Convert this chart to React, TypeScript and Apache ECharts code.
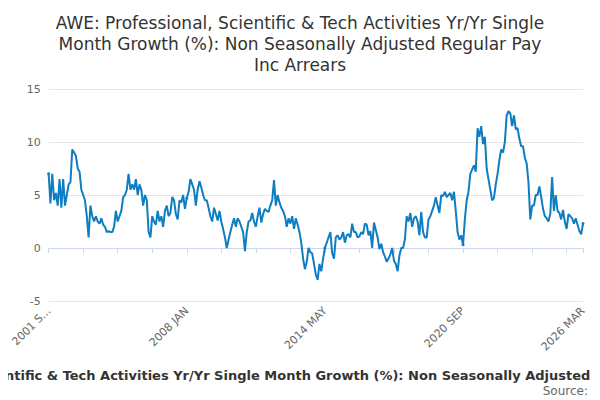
import { useEffect, useRef } from 'react';
import * as echarts from 'echarts';

const TITLE = 'AWE: Professional, Scientific & Tech Activities Yr/Yr Single\nMonth Growth (%): Non Seasonally Adjusted Regular Pay\nInc Arrears';
const LEGEND = 'AWE: Professional, Scientific & Tech Activities Yr/Yr Single Month Growth (%): Non Seasonally Adjusted Regular Pay Inc Arrears';
const MONTHS = ['JAN', 'FEB', 'MAR', 'APR', 'MAY', 'JUN', 'JUL', 'AUG', 'SEP', 'OCT', 'NOV', 'DEC'];

const values = [
  7, 4.2, 7, 4.5, 5.2, 4, 6.5, 3.8, 6.5, 4, 5, 6, 6.2, 9.3, 9, 8.7, 7.5, 7.2, 5.5, 5, 4.5, 3, 1,
  4, 3, 2.5, 3, 2.5, 2.3, 2.8, 2.2, 2, 1.5, 1.6, 1.5, 1.5, 2, 3.5, 2.5, 3, 3.5, 4.8, 5, 5.5, 7,
  5.5, 6, 5.5, 6.5, 5, 6, 5.5, 4, 5, 4.5, 1.5, 1, 3, 2.5, 2.2, 3.5, 2.5, 3, 2, 3.5, 4, 3, 3.3,
  4.8, 4.5, 3.2, 2.7, 4.5, 4.3, 5, 3.7, 4.7, 5.3, 6.5,
  6, 5.5, 4, 5.5, 6.3, 5.7, 5, 4.5, 4.5, 3.8, 3, 2.5, 3.8, 3.2, 2.6, 3.5, 2.5, 1.8, 1, 0, 0.8,
  1.5, 2.2, 2.8, 2, 2.8, 2.5, 2, 1.5, -0.3,
  1.5, 2.5, 2.6, 3.3, 2.5, 2, 3, 3.8, 2.4, 3.2, 3.7, 3.5, 3.4, 4, 4.5, 6.4, 4, 5, 4.3, 3.8, 3.5,
  3, 2, 2.8, 2.3, 3, 1.8, 2.8, 2.2, 1.5, 0.5, -1, -2,
  -1.3, 0, -0.4, -0.5, -1.5, -2.5, -3, -1.5, -2.2, -1, 0, 0.5, 1, 1.5, -0.5, -1, 1, 1.2, 0.8,
  1, 1.5, 0.5, 1.2, 1.3, 1, 2.3, 1.5, 1.5, 1, 1.1, 1.5, 1.3, 2.3, 2.2, 1.2, 1.6, 0, 2.4, 1.7,
  1, -0.1, 0.4, -0.4, -0.8, -1.3, -1, -0.6, 0, -1.2, -1.5, -2.2, -0.7, 0, 0, 0.8, 3, 2.5, 3.3, 2, 2.8,
  3, 2.5, 1.2, 3.4, 1.5, 1, 1, 2.7, 3, 3.5, 4, 4.8, 4, 3.3, 5, 4.9, 5.3, 4.8, 5, 5.2, 4.5,
  5.3, 3.5, 1.5, 0.8, 1.2, 0.3, 2.7, 4.5, 5.3, 7, 7.4, 7.8, 7.2, 11.3, 10.5, 11.5,
  9.8, 10.5, 7.5, 6.5, 5.5, 4.5, 4.7, 6, 7, 8.3, 9.3, 9, 10, 12.5, 12.9,
  12.7, 11.5, 12.5, 11.2, 11.3, 10.3, 9.6, 9.6, 8.5, 8, 6.2, 2.7, 4, 4, 5, 5, 5.8, 4.8, 3.7,
  3, 2.8, 2.5, 3.2, 6.7, 3.5, 5, 3.5, 3.3, 2.7, 3.6, 2.5, 1.8, 3.2, 3, 2.8, 2.3, 2.8, 2.2,
  1.6, 1.3, 2.3,
];

// months counted back from 2026 MAR
const categories = values.map((_, i) => {
  const back = values.length - 1 - i;
  const m = 2026 * 12 + 2 - back;
  return `${Math.floor(m / 12)} ${MONTHS[m % 12]}`;
});

const App = () => {
  const ref = useRef<HTMLDivElement>(null);

  useEffect(() => {
    if (!ref.current) return;
    const chart = echarts.init(ref.current, null, { renderer: 'svg' });
    const n = values.length;
    chart.setOption({
      animation: false,
      textStyle: { fontFamily: 'DejaVu Sans' },
      title: {
        text: TITLE,
        left: 'center',
        top: -1,
        textStyle: { fontSize: 17, fontWeight: 'normal', color: '#333', lineHeight: 21 },
      },
      grid: { left: 30, right: 9, top: 81, bottom: 99 },
      xAxis: {
        type: 'category',
        data: categories,
        boundaryGap: false,
        axisLine: { lineStyle: { color: '#ccd6eb' } },
        axisTick: { lineStyle: { color: '#ccd6eb' }, interval: (i: number) => i % 19 === 0 || i === n - 1 },
        axisLabel: {
          rotate: 45,
          color: '#666',
          fontSize: 11,
          interval: (i: number) => i % 76 === 0 || i === n - 1,
          formatter: (v: string, i: number) => (i === 0 ? v.slice(0, 6) + '...' : v),
        },
      },
      yAxis: {
        type: 'value',
        min: -5,
        max: 15,
        interval: 5,
        axisLabel: { color: '#666', fontSize: 11 },
        splitLine: { lineStyle: { color: '#e6e6e6' } },
      },
      series: [
        {
          type: 'line',
          data: values,
          symbol: 'circle',
          symbolSize: 3,
          lineStyle: { color: '#0f7dc2', width: 2 },
          itemStyle: { color: '#0f7dc2' },
        },
      ],
      graphic: [
        {
          type: 'text',
          x: 292,
          y: 367,
          style: {
            text: LEGEND,
            align: 'center',
            verticalAlign: 'middle',
            font: 'bold 13px DejaVu Sans',
            fill: '#333',
          },
        },
        {
          type: 'text',
          x: 580,
          y: 383,
          style: { text: 'Source:', align: 'right', verticalAlign: 'middle', font: '12px DejaVu Sans', fill: '#666' },
        },
      ],
    });
    return () => chart.dispose();
  }, []);

  return <div ref={ref} style={{ width: 584, height: 392 }} />;
};

export default App;
